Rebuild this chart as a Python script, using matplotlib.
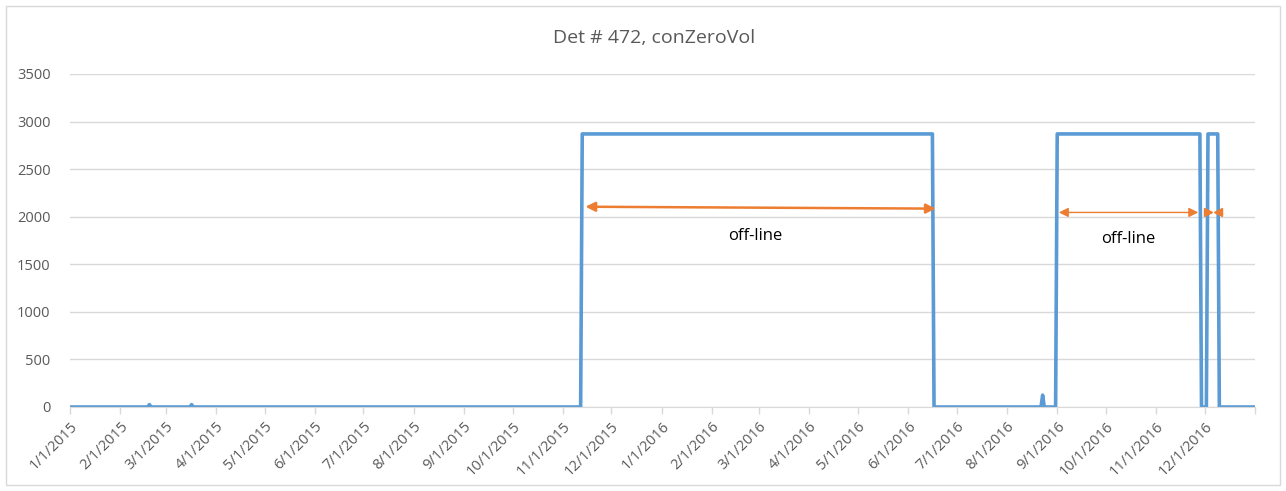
import matplotlib
matplotlib.use("Agg")
import matplotlib.pyplot as plt
import numpy as np
import pandas as pd

# change points of the daily series (date, value)
dates = ["2015-01-01", "2015-02-18", "2015-02-19", "2015-02-20",
         "2015-03-16", "2015-03-17", "2015-03-18",
         "2015-11-12", "2015-11-13", "2016-06-16", "2016-06-17",
         "2016-08-22", "2016-08-23", "2016-08-24",
         "2016-08-31", "2016-09-01", "2016-11-28", "2016-11-29",
         "2016-12-02", "2016-12-03", "2016-12-09", "2016-12-10", "2016-12-31"]
values = [0, 0, 25, 0,
          0, 25, 0,
          0, 2870, 2870, 0,
          0, 125, 0,
          0, 2870, 2870, 0,
          0, 2870, 2870, 0, 0]

# annotation arrows: (start, end, y start, y end, width)
arrows = [("2015-11-15", "2016-06-18", 2105, 2085, 1.8),
          ("2016-09-02", "2016-11-27", 2045, 2045, 1.0)]
labels = [("2016-02-28", 1800, "off-line"), ("2016-10-15", 1770, "off-line")]
small_arrow = ("2016-12-03", "2016-12-09", 2045)

ticks = pd.date_range("2015-01-01", "2016-12-01", freq="MS")
tick_labels = [f"{d.month}/{d.day}/{d.year}" for d in ticks]

blue = "#5B9BD5"
orange = "#ED7D31"
grey = "#595959"

plt.rcParams["font.family"] = ["Open Sans", "DejaVu Sans"]

fig = plt.figure(figsize=(12.86, 4.91), dpi=100)
ax = fig.add_axes([70 / 1286, 1 - 407 / 491, 1185 / 1286, 333 / 491])

x = pd.to_datetime(dates)
ax.plot(x, values, color=blue, lw=2.6, solid_joinstyle="round")

for s, e, y0, y1, w in arrows:
    ax.annotate("", xy=(pd.Timestamp(e), y1), xytext=(pd.Timestamp(s), y0),
                arrowprops=dict(arrowstyle="<|-|>", color=orange, lw=w,
                                mutation_scale=14, shrinkA=0, shrinkB=0))
for d, y, t in labels:
    ax.text(pd.Timestamp(d), y, t, ha="center", va="center", fontsize=12, color="black")

s, e, y = small_arrow
ax.plot([pd.Timestamp(s)], [y], marker=">", color=orange, ms=6, ls="none")
ax.plot([pd.Timestamp(e)], [y], marker="<", color=orange, ms=6, ls="none")

ax.set_xlim(pd.Timestamp("2015-01-01"), pd.Timestamp("2017-01-01"))
ax.set_ylim(0, 3500)
ax.set_yticks(np.arange(0, 3501, 500))
ax.set_xticks(list(ticks) + [pd.Timestamp("2017-01-01")])
ax.set_xticklabels(tick_labels + [""], rotation=45, ha="right", rotation_mode="anchor")
ax.tick_params(axis="x", colors="#d9d9d9", labelcolor=grey, labelsize=10.5, length=5, width=1)
ax.tick_params(axis="y", length=0, labelcolor=grey, labelsize=10.5, pad=14)
ax.grid(axis="y", color="#d9d9d9", lw=1)
ax.set_axisbelow(True)
for side in ["left", "right", "top"]:
    ax.spines[side].set_visible(False)
ax.spines["bottom"].set_color("#d9d9d9")

fig.text(654 / 1286, 1 - 38 / 491, "Det # 472, conZeroVol", ha="center", va="center",
         fontsize=14, color=grey)

border = plt.Rectangle((6 / 1286, 6 / 491), 1274 / 1286, 479 / 491, transform=fig.transFigure,
                       fill=False, edgecolor="#d9d9d9", lw=1)
fig.patches.append(border)

fig.savefig("out.png", dpi=100)
